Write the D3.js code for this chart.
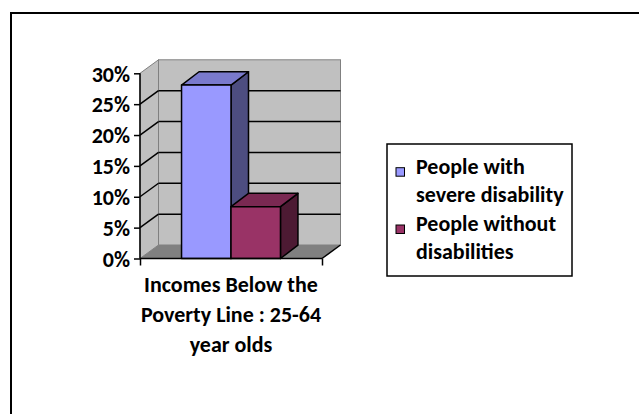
<!DOCTYPE html>
<html>
<head>
<meta charset="utf-8">
<script src="https://cdn.jsdelivr.net/npm/d3@7"></script>
<style>
  html, body { margin: 0; padding: 0; background: #fff; }
  svg { display: block; }
  text { font-family: Carlito, Lato, "Open Sans", sans-serif; font-weight: bold; fill: #000; }
</style>
</head>
<body>
<svg id="chart" width="639" height="414"></svg>
<script>
// ---- data ----
const categories = ["Incomes Below the Poverty Line : 25-64 year olds"];
const categoryLines = ["Incomes Below the", "Poverty Line : 25-64", "year olds"];
const seriesNames = ["People with severe disability", "People without disabilities"];
const legendLines = [["People with", "severe disability"], ["People without", "disabilities"]];
const seriesValues = [0.281, 0.084];
const seriesColors = ["#9999FF", "#993366"];
const yTicks = [0, 0.05, 0.10, 0.15, 0.20, 0.25, 0.30];

// ---- layout ----
const svg = d3.select("#chart");
const FS = 22;
const plot = { x0: 140, x1: 322, y0: 258.5, y1: 73.3 };
const depth = { dx: 18.5, dy: 13.5 };
const barDepth = { dx: 17.5, dy: 13.3 };

const y = d3.scaleLinear().domain([0, 0.30]).range([plot.y0, plot.y1]);
const x = d3.scaleBand().domain(categories).range([plot.x0, plot.x1]).paddingInner(0).paddingOuter(0.42);
const xs = d3.scaleBand().domain(seriesNames).range([x(categories[0]), x(categories[0]) + x.bandwidth()]);

function shade(c, k) {
  const r = d3.rgb(c);
  return d3.rgb(r.r * k, r.g * k, r.b * k).toString();
}

// chart border (top and left visible)
svg.append("rect").attr("x", 11).attr("y", 13).attr("width", 700).attr("height", 500)
  .attr("fill", "none").attr("stroke", "#000").attr("stroke-width", 2);

const g = svg.append("g");

// back wall
g.append("rect")
  .attr("x", plot.x0 + depth.dx).attr("y", y(0.30) - depth.dy)
  .attr("width", plot.x1 - plot.x0).attr("height", y(0) - y(0.30))
  .attr("fill", "#C0C0C0").attr("stroke", "#808080").attr("stroke-width", 1);

// side wall
g.append("path")
  .attr("d", `M${plot.x0},${y(0)} L${plot.x0},${y(0.30)} L${plot.x0 + depth.dx},${y(0.30) - depth.dy} L${plot.x0 + depth.dx},${y(0) - depth.dy} Z`)
  .attr("fill", "#C0C0C0").attr("stroke", "#808080").attr("stroke-width", 1);

// floor
g.append("path")
  .attr("d", `M${plot.x0},${y(0)} L${plot.x0 + depth.dx},${y(0) - depth.dy} L${plot.x1 + depth.dx},${y(0) - depth.dy} L${plot.x1},${y(0)} Z`)
  .attr("fill", "#808080").attr("stroke", "none");
g.append("line")
  .attr("x1", plot.x1).attr("y1", y(0)).attr("x2", plot.x1 + depth.dx).attr("y2", y(0) - depth.dy)
  .attr("stroke", "#000").attr("stroke-width", 1.5);

// gridlines (back wall + side wall)
yTicks.filter(t => t > 0 && t < 0.30).forEach(t => {
  g.append("line")
    .attr("x1", plot.x0 + depth.dx).attr("x2", plot.x1 + depth.dx)
    .attr("y1", y(t) - depth.dy).attr("y2", y(t) - depth.dy)
    .attr("stroke", "#000").attr("stroke-width", 1.5);
  g.append("line")
    .attr("x1", plot.x0).attr("y1", y(t))
    .attr("x2", plot.x0 + depth.dx).attr("y2", y(t) - depth.dy)
    .attr("stroke", "#000").attr("stroke-width", 1.5);
});

// bars
seriesNames.forEach((s, i) => {
  const v = seriesValues[i];
  const bx0 = xs(s), bx1 = xs(s) + xs.bandwidth();
  const by0 = y(0), by1 = y(v);
  const c = seriesColors[i];
  const bg = g.append("g").attr("stroke", "#000").attr("stroke-width", 1.5).attr("stroke-linejoin", "round");
  // side face
  bg.append("path")
    .attr("d", `M${bx1},${by0} L${bx1},${by1} L${bx1 + barDepth.dx},${by1 - barDepth.dy} L${bx1 + barDepth.dx},${by0 - barDepth.dy} Z`)
    .attr("fill", shade(c, 0.5));
  // top face
  bg.append("path")
    .attr("d", `M${bx0},${by1} L${bx0 + barDepth.dx},${by1 - barDepth.dy} L${bx1 + barDepth.dx},${by1 - barDepth.dy} L${bx1},${by1} Z`)
    .attr("fill", shade(c, 0.8));
  // front face
  bg.append("rect")
    .attr("x", bx0).attr("y", by1).attr("width", bx1 - bx0).attr("height", by0 - by1)
    .attr("fill", c);
});

// y axis
const yAxis = d3.axisLeft(y).tickValues(yTicks).tickFormat(d3.format(".0%")).tickSize(6).tickPadding(4);
const ya = svg.append("g").attr("transform", `translate(${plot.x0},0)`).call(yAxis);
ya.select(".domain").attr("stroke", "#000").attr("stroke-width", 1.5).attr("d", `M0,${y(0)}V${y(0.30)}`);
ya.selectAll(".tick line").attr("stroke", "#000").attr("stroke-width", 1.5);
ya.selectAll(".tick text").style("font-size", FS + "px").attr("dy", "0.35em")
  .style("font-family", "Carlito, Lato, 'Open Sans', sans-serif").style("font-weight", "bold");

// x axis
const xAxis = d3.axisBottom(d3.scaleLinear().domain([0, 1]).range([plot.x0, plot.x1])).tickValues([0, 1]).tickSize(7).tickFormat("");
const xa = svg.append("g").attr("transform", `translate(0,${y(0)})`).call(xAxis);
xa.select(".domain").attr("stroke", "#000").attr("stroke-width", 1.5).attr("d", `M${plot.x0},0H${plot.x1}`);
xa.selectAll(".tick line").attr("stroke", "#000").attr("stroke-width", 1.5);

// category label
const cx = x(categories[0]) + x.bandwidth() / 2;
svg.append("text").attr("text-anchor", "middle").style("font-size", FS + "px")
  .selectAll("tspan").data(categoryLines).join("tspan")
  .attr("x", cx).attr("y", (d, i) => 292 + i * 30).text(d => d);

// legend
const lg = svg.append("g");
lg.append("rect").attr("x", 387).attr("y", 144).attr("width", 185).attr("height", 132)
  .attr("fill", "#fff").attr("stroke", "#000").attr("stroke-width", 1.5);
const legendY = [167.7, 225];
seriesNames.forEach((s, i) => {
  lg.append("rect").attr("x", 396).attr("y", legendY[i]).attr("width", 8.5).attr("height", 8.5)
    .attr("fill", seriesColors[i]).attr("stroke", "#000").attr("stroke-width", 1);
  lg.append("text").style("font-size", FS + "px")
    .selectAll("tspan").data(legendLines[i]).join("tspan")
    .attr("x", 416).attr("y", (d, j) => legendY[i] + 6 + j * 28.3).text(d => d);
});
</script>
</body>
</html>
